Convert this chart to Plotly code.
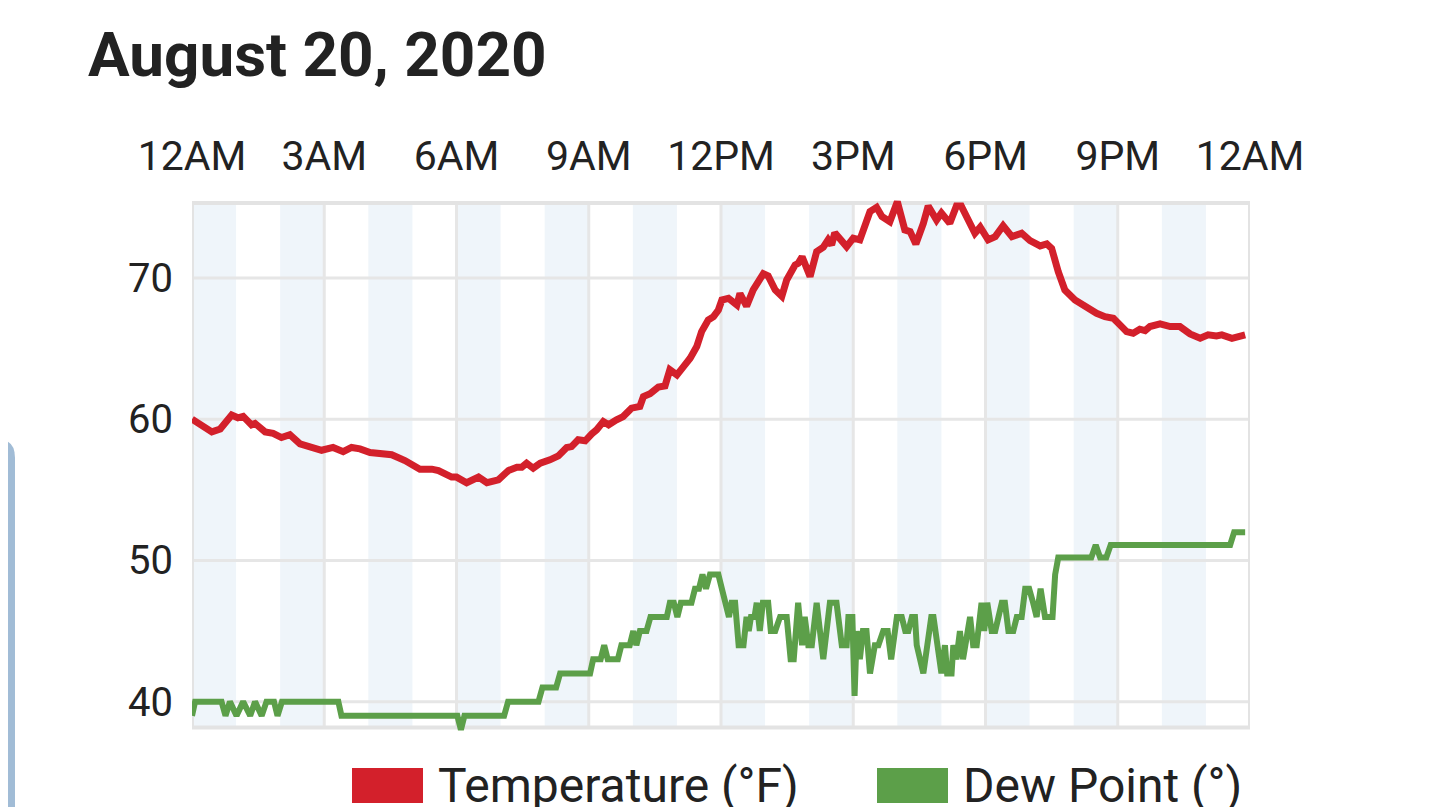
import plotly.graph_objects as go

# chart data
title_text = "August 20, 2020"
tick_hours = [0, 3, 6, 9, 12, 15, 18, 21, 24]
tick_labels = ["12AM", "3AM", "6AM", "9AM", "12PM", "3PM", "6PM", "9PM", "12AM"]
y_ticks = [40, 50, 60, 70]

temp_hours = [0.00, 0.45, 0.64, 0.90, 1.04, 1.16, 1.35, 1.43, 1.66, 1.84, 2.03, 2.22, 2.45, 2.68,
              2.94, 3.20, 3.43, 3.62, 3.81, 4.04, 4.23, 4.53, 4.83, 5.17, 5.44, 5.59, 5.89, 6.00,
              6.23, 6.50, 6.69, 6.95, 7.18, 7.37, 7.48, 7.59, 7.74, 7.90, 8.12, 8.31, 8.50, 8.61,
              8.76, 8.92, 9.07, 9.18, 9.33, 9.45, 9.63, 9.78, 9.97, 10.16, 10.24, 10.39, 10.58,
              10.73, 10.84, 11.00, 11.15, 11.30, 11.45, 11.56, 11.71, 11.83, 11.94, 12.02, 12.17,
              12.36, 12.43, 12.58, 12.73, 12.96, 13.07, 13.23, 13.38, 13.49, 13.68, 13.75, 13.84,
              14.02, 14.17, 14.32, 14.43, 14.51, 14.58, 14.70, 14.85, 15.00, 15.15, 15.38, 15.53,
              15.65, 15.83, 16.00, 16.17, 16.29, 16.42, 16.59, 16.70, 16.89, 17.00, 17.19, 17.34,
              17.45, 17.76, 17.88, 18.06, 18.22, 18.40, 18.60, 18.82, 19.01, 19.24, 19.39, 19.50,
              19.65, 19.80, 20.03, 20.30, 20.52, 20.71, 20.90, 21.05, 21.20, 21.35, 21.50, 21.62,
              21.73, 21.96, 22.19, 22.41, 22.64, 22.87, 23.05, 23.24, 23.36, 23.59, 23.74, 23.89]
temp_values = [60.0, 59.1, 59.3, 60.3, 60.1, 60.2, 59.6, 59.7, 59.1, 59.0, 58.7, 58.9, 58.25, 58.07,
               57.8, 58.0, 57.7, 58.0, 57.9, 57.64, 57.55, 57.48, 57.07, 56.46, 56.46, 56.36, 55.9, 55.9,
               55.5, 55.9, 55.5, 55.7, 56.37, 56.6, 56.6, 56.88, 56.53, 56.88, 57.12, 57.4, 58.0, 58.06,
               58.54, 58.47, 58.96, 59.25, 59.83, 59.6, 59.95, 60.19, 60.78, 60.9, 61.6, 61.8, 62.27,
               62.36, 63.5, 63.14, 63.72, 64.32, 65.14, 66.2, 67.03, 67.26, 67.73, 68.44, 68.56,
               68.09, 68.9, 68.0, 69.15, 70.3, 70.14, 69.15, 68.7, 69.86, 70.92, 71.04, 71.5,
               70.1, 71.87, 72.18, 72.7, 72.34, 73.2, 72.82, 72.22, 72.82, 72.7, 74.7, 75.0,
               74.35, 73.99, 75.4, 73.4, 73.28, 72.4, 73.87, 75.1, 74.1, 74.6, 73.87, 75.1,
               75.1, 73.17, 73.6, 72.7, 72.93, 73.7, 72.93, 73.17, 72.65, 72.27, 72.41, 72.1,
               70.45, 69.15, 68.44, 67.85, 67.5, 67.26, 67.15, 66.68, 66.2, 66.09, 66.37, 66.27,
               66.56, 66.75, 66.56, 66.56, 66.04, 65.73, 65.97, 65.9, 65.97, 65.73, 65.85, 65.97]

dew_hours = [0.00, 0.07, 0.67, 0.76, 0.86, 1.01, 1.16, 1.32, 1.43, 1.58, 1.69, 1.86, 1.94, 2.04,
             3.32, 3.39, 6.02, 6.10, 6.18, 7.08, 7.17, 7.86, 7.95, 8.26, 8.35, 9.03, 9.10, 9.27,
             9.35, 9.43, 9.66, 9.74, 9.93, 10.01, 10.08, 10.16, 10.31, 10.40, 10.77, 10.84, 10.93,
             11.01, 11.09, 11.33, 11.41, 11.50, 11.58, 11.66, 11.75, 11.94, 12.02, 12.10, 12.18,
             12.24, 12.32, 12.40, 12.51, 12.58, 12.63, 12.68, 12.76, 12.81, 12.88, 12.95, 13.07,
             13.13, 13.23, 13.34, 13.49, 13.58, 13.65, 13.75, 13.84, 13.90, 13.98, 14.06, 14.17,
             14.32, 14.47, 14.62, 14.74, 14.85, 14.89, 14.98, 15.03, 15.08, 15.15, 15.22, 15.30,
             15.38, 15.49, 15.57, 15.68, 15.78, 15.86, 15.99, 16.10, 16.18, 16.25, 16.33, 16.40,
             16.44, 16.59, 16.77, 16.82, 17.00, 17.08, 17.13, 17.23, 17.27, 17.34, 17.42, 17.49,
             17.65, 17.72, 17.80, 17.91, 17.97, 18.04, 18.14, 18.22, 18.37, 18.44, 18.52, 18.63,
             18.71, 18.82, 18.90, 18.99, 19.08, 19.16, 19.25, 19.35, 19.52, 19.58, 19.65, 20.40,
             20.50, 20.60, 20.74, 20.84, 23.55, 23.64, 23.89]
dew_values = [39, 40, 40, 39, 40, 39, 40, 39, 40, 39, 40, 40, 39, 40,
              40, 39, 39, 38, 39, 39, 40, 40, 41, 41, 42, 42, 43, 43,
              44, 43, 43, 44, 44, 45, 44, 45, 45, 46, 46, 47, 47,
              46, 47, 47, 48, 48, 49, 48, 49, 49, 48, 47, 46,
              47, 47, 44, 44, 46, 45, 46, 46, 47, 45, 47, 47,
              45, 45, 46, 46, 43, 43, 47, 44, 46, 44, 44, 47,
              43, 47, 47, 44, 44, 46, 46, 40.4, 45, 43, 45, 45,
              42, 44, 44, 45, 45, 43, 46, 46, 45, 45, 46, 46,
              44, 42, 46, 46, 42, 44, 42, 42, 44, 43, 45, 43,
              46, 44, 44, 47, 45, 47, 45, 45, 47, 47, 45, 45,
              46, 46, 48, 48, 47, 46, 48, 46, 46, 49, 50.2, 50.2,
              51.1, 50.2, 50.2, 51.1, 51.1, 52.0, 52.0]

legend_names = ["Temperature (°F)", "Dew Point (°)"]
red = "#d3202b"
green = "#5c9f49"

# layout in pixels; the page body adds an 8px margin, so the figure is laid out 8px up/left
W, H = 1440, 807
OFF = 8
L, R, T, B = 184, 198, 181, 71
y_lo, y_hi = 37.0, 76.3
frame_lo, frame_hi = 38.16, 75.3


def px(x):
    # screen x -> paper
    return (x - OFF - L) / (W - L - R)


def py(y):
    # screen y -> paper
    return (H - B - (y - OFF)) / (H - T - B)


fig = go.Figure()
fig.add_trace(go.Scatter(x=temp_hours, y=temp_values, mode="lines", name=legend_names[0],
                         line=dict(color=red, width=7)))
fig.add_trace(go.Scatter(x=dew_hours, y=dew_values, mode="lines", name=legend_names[1],
                         line=dict(color=green, width=6)))

shapes = []
# light stripes on even hours
for h in range(0, 24, 2):
    shapes.append(dict(type="rect", xref="x", yref="y", x0=h, x1=h + 1, y0=frame_lo, y1=frame_hi,
                       fillcolor="#eff5fa", line=dict(width=0), layer="below"))
for v in y_ticks:
    shapes.append(dict(type="line", xref="x", yref="y", x0=0, x1=24, y0=v, y1=v,
                       line=dict(color="#e6e6e6", width=3), layer="below"))
for h in tick_hours[1:-1]:
    shapes.append(dict(type="line", xref="x", yref="y", x0=h, x1=h, y0=frame_lo, y1=frame_hi,
                       line=dict(color="#e6e6e6", width=3), layer="below"))
shapes.append(dict(type="rect", xref="x", yref="y", x0=0, x1=24, y0=frame_lo, y1=frame_hi,
                   line=dict(color="#e3e3e3", width=4), layer="below"))

# legend boxes
shapes.append(dict(type="rect", xref="paper", yref="paper", x0=px(352), x1=px(423), y0=py(803), y1=py(768),
                   fillcolor=red, line=dict(width=0)))
shapes.append(dict(type="rect", xref="paper", yref="paper", x0=px(877), x1=px(948), y0=py(803), y1=py(768),
                   fillcolor=green, line=dict(width=0)))

# side panel edge on the left
path = "M {:.4f},{:.4f} L {:.4f},{:.4f} L {:.4f},{:.4f} Q {:.4f},{:.4f} {:.4f},{:.4f} L {:.4f},{:.4f} Z".format(
    px(-5), py(815), px(-5), py(440), px(0), py(440), px(15), py(440), px(15), py(458), px(15), py(815))
shapes.append(dict(type="path", xref="paper", yref="paper", path=path,
                   fillcolor="#a1bcd6", line=dict(width=0)))

annotations = [
    dict(text="<b>" + title_text + "</b>", xref="paper", yref="paper", x=px(86), y=py(54),
         xanchor="left", yanchor="middle", showarrow=False,
         font=dict(family="Roboto", size=62, color="#222222")),
    dict(text=legend_names[0], xref="paper", yref="paper", x=px(436), y=py(785),
         xanchor="left", yanchor="middle", showarrow=False,
         font=dict(family="Roboto", size=48, color="#222222")),
    dict(text=legend_names[1], xref="paper", yref="paper", x=px(961), y=py(785),
         xanchor="left", yanchor="middle", showarrow=False,
         font=dict(family="Roboto", size=48, color="#222222")),
]

fig.update_layout(
    width=W, height=H,
    margin=dict(l=L, r=R, t=T, b=B),
    paper_bgcolor="white", plot_bgcolor="white",
    showlegend=False,
    shapes=shapes,
    annotations=annotations,
    font=dict(family="Roboto", color="#222222"),
    xaxis=dict(range=[0, 24], side="top", tickmode="array", tickvals=tick_hours, ticktext=tick_labels,
               showgrid=False, zeroline=False, showline=False, ticks="",
               tickfont=dict(family="Roboto", size=41, color="#222222"), ticklabelstandoff=10),
    yaxis=dict(range=[y_lo, y_hi], tickmode="array", tickvals=y_ticks,
               showgrid=False, zeroline=False, showline=False, ticks="",
               tickfont=dict(family="Roboto", size=40, color="#222222"), ticklabelstandoff=18),
)

fig.write_html("out.html")
